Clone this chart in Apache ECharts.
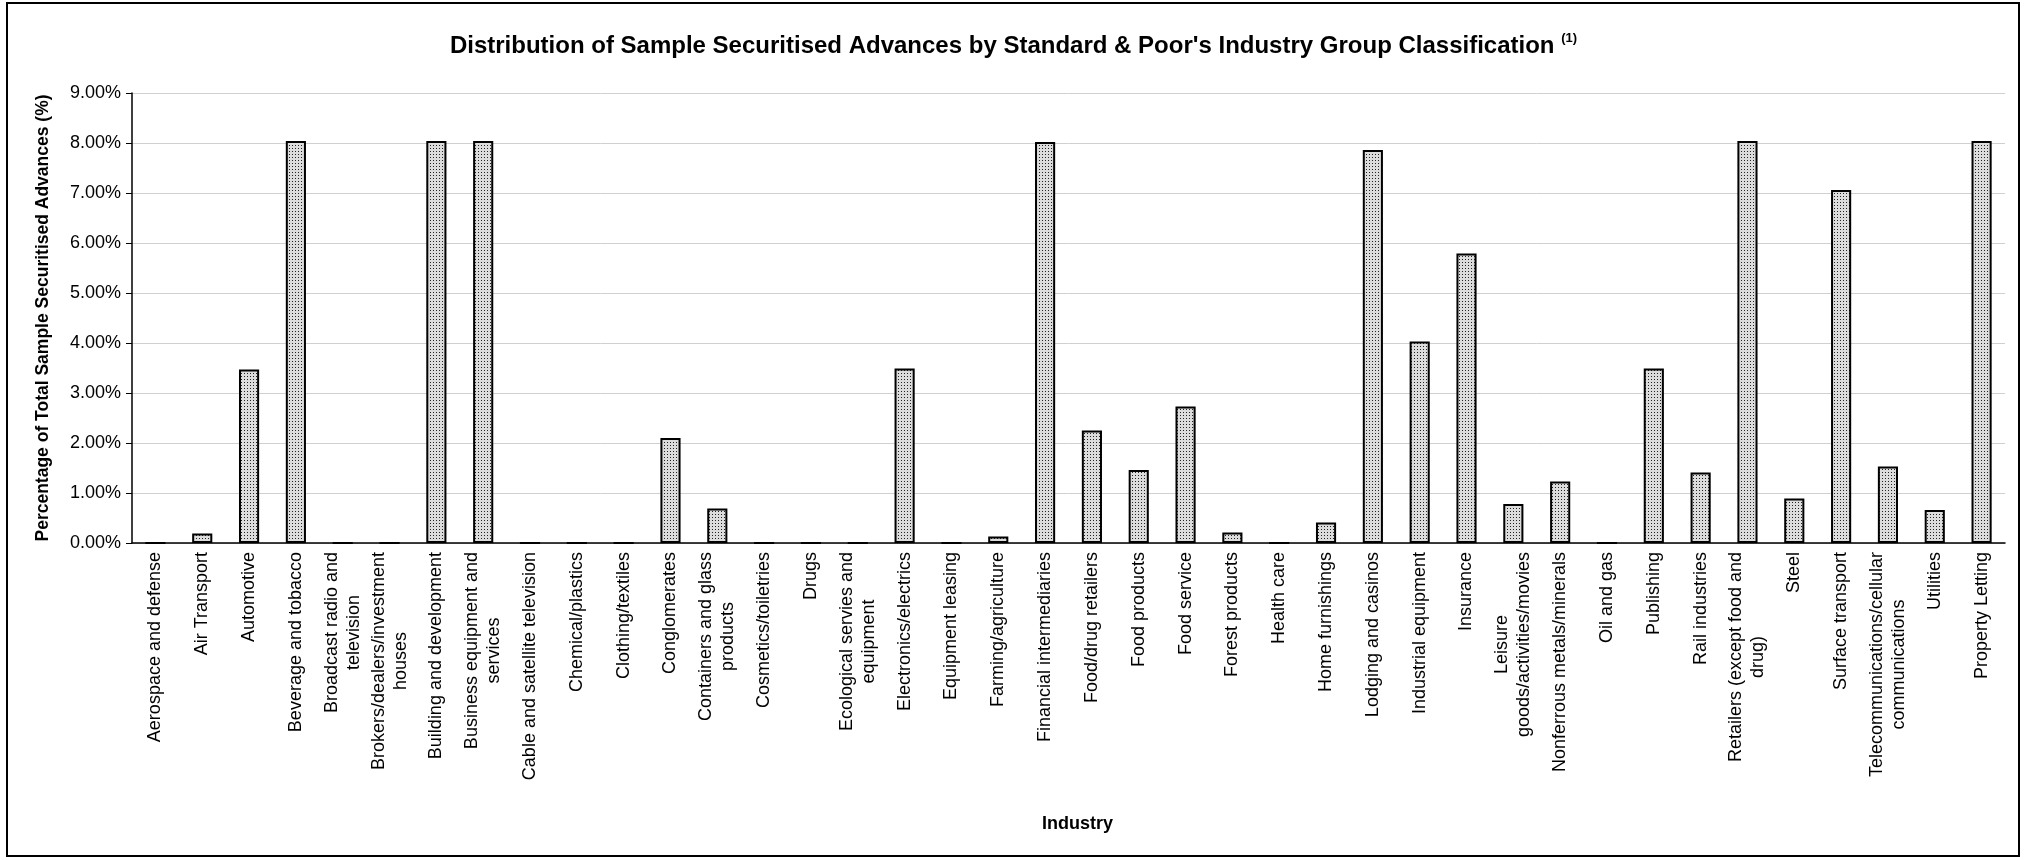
<!DOCTYPE html>
<html>
<head>
<meta charset="utf-8">
<script src="https://cdn.jsdelivr.net/npm/echarts@6/dist/echarts.min.js"></script>
<style>
  html, body { margin: 0; padding: 0; background: #fff; }
  #main { width: 2027px; height: 860px; }
</style>
</head>
<body>
<div id="main"></div>
<script>
// industry groups (line breaks as in the original axis labels)
var industries = [
    'Aerospace and defense', 'Air Transport', 'Automotive', 'Beverage and tobacco',
    'Broadcast radio and\ntelevision', 'Brokers/dealers/investment\nhouses',
    'Building and development', 'Business equipment and\nservices',
    'Cable and satellite television', 'Chemical/plastics', 'Clothing/textiles',
    'Conglomerates', 'Containers and glass\nproducts', 'Cosmetics/toiletries', 'Drugs',
    'Ecological servies and\nequipment', 'Electronics/electrics', 'Equipment leasing',
    'Farming/agriculture', 'Financial intermediaries', 'Food/drug retailers',
    'Food products', 'Food service', 'Forest products', 'Health care',
    'Home furnishings', 'Lodging and casinos', 'Industrial equipment', 'Insurance',
    'Leisure\ngoods/activities/movies', 'Nonferrous metals/minerals', 'Oil and gas',
    'Publishing', 'Rail industries', 'Retailers (except food and\ndrug)', 'Steel',
    'Surface transport', 'Telecommunications/cellular\ncommunications', 'Utilities',
    'Property Letting'
];

// percentage of total sample securitised advances (%)
var shares = [
    0, 0.19, 3.47, 8.04,
    0, 0,
    8.04, 8.04,
    0, 0, 0,
    2.10, 0.69, 0, 0,
    0, 3.49, 0,
    0.13, 8.02, 2.25,
    1.46, 2.73, 0.21, 0,
    0.41, 7.86, 4.03, 5.79,
    0.78, 1.23, 0,
    3.49, 1.41, 8.04, 0.89,
    7.06, 1.53, 0.66,
    8.04
];

var yTicks = { min: 0, max: 9, step: 1 };

var FONT = '"Liberation Sans", Arial, sans-serif';

// dotted fill like the original bars
function dotPattern() {
    var c = document.createElement('canvas');
    c.width = 3; c.height = 3;
    var ctx = c.getContext('2d');
    ctx.fillStyle = '#dcdcdc';
    ctx.fillRect(0, 0, 3, 3);
    ctx.fillStyle = '#222222';
    ctx.fillRect(1, 1, 1, 1);
    return c;
}

var myChart = echarts.init(document.getElementById('main'));

var option = {
    animation: false,
    backgroundColor: '#ffffff',
    textStyle: { fontFamily: FONT },
    title: {
        text: '{t|Distribution of Sample Securitised Advances by Standard & Poor\'s Industry Group Classification }{s|(1)}',
        left: 'center',
        top: 27,
        textStyle: {
            rich: {
                t: { fontFamily: FONT, fontWeight: 'bold', fontSize: 24, color: '#000', lineHeight: 28 },
                s: { fontFamily: FONT, fontWeight: 'bold', fontSize: 13, color: '#000', verticalAlign: 'top', lineHeight: 28, padding: [0, 0, 10, 0] }
            }
        }
    },
    graphic: [{
        type: 'rect',
        shape: { x: 7, y: 3, width: 2012, height: 853 },
        style: { fill: null, stroke: '#000', lineWidth: 2 },
        silent: true
    }],
    grid: { left: 132, right: 22, top: 93, bottom: 317 },
    xAxis: {
        type: 'category',
        data: industries,
        name: 'Industry',
        nameLocation: 'middle',
        nameGap: 272,
        nameTextStyle: { fontFamily: FONT, fontWeight: 'bold', fontSize: 18, color: '#000', padding: [0, 0, 0, 18] },
        axisLine: { lineStyle: { color: '#000', width: 1.5 } },
        axisTick: { length: 6, lineStyle: { color: '#000' } },
        axisLabel: {
            interval: 0,
            rotate: 90,
            margin: 9,
            fontSize: 18,
            color: '#000',
            lineHeight: 22,
            formatter: function (v) {
                return v.split('\n').map(function (s) { return '{c|' + s + '}'; }).join('\n');
            },
            rich: {
                c: { fontFamily: FONT, fontSize: 18, color: '#000', align: 'center', lineHeight: 22 }
            }
        }
    },
    yAxis: {
        type: 'value',
        min: yTicks.min,
        max: yTicks.max,
        interval: yTicks.step,
        name: 'Percentage of Total Sample Securitised Advances (%)',
        nameLocation: 'middle',
        nameGap: 80,
        nameTextStyle: { fontFamily: FONT, fontWeight: 'bold', fontSize: 17.5, color: '#000' },
        axisLine: { show: true, lineStyle: { color: '#000', width: 1.5 } },
        axisTick: { show: true, length: 6, lineStyle: { color: '#000' } },
        axisLabel: {
            fontSize: 18,
            color: '#000',
            margin: 11,
            formatter: function (v) { return v.toFixed(2) + '%'; }
        },
        splitLine: { lineStyle: { color: '#d0d0d0', width: 1 } }
    },
    series: [{
        name: 'Share',
        type: 'bar',
        data: shares,
        barCategoryGap: '57%',
        itemStyle: {
            color: { image: dotPattern(), repeat: 'repeat' },
            borderColor: '#000',
            borderWidth: 2
        }
    }]
};

myChart.setOption(option);
</script>
</body>
</html>
